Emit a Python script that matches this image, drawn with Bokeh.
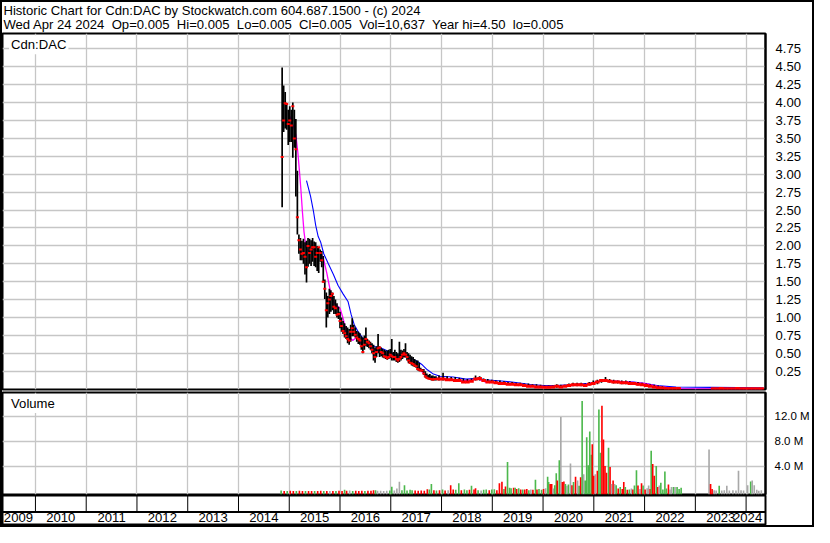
import numpy as np
from bokeh.plotting import figure
from bokeh.models import (Range1d, LinearAxis, FixedTicker, Grid, Label, Span,
                          ColumnDataSource, NumeralTickFormatter)
from bokeh.layouts import column
from bokeh.embed import file_html
from bokeh.resources import INLINE
from bokeh.core.properties import value

FONT = "Liberation Sans"
NB = "\u00a0"

title_line = "Historic Chart for Cdn:DAC by Stockwatch.com 604.687.1500 - (c) 2024"
quote_items = ["Wed Apr 24 2024", "Op=0.005", "Hi=0.005", "Lo=0.005", "Cl=0.005",
               "Vol=10,637", "Year hi=4.50", "lo=0.005"]
symbol_label = "Cdn:DAC"
volume_label = "Volume"

grid_years = list(range(2010, 2025))
year_labels = [str(y) for y in range(2009, 2025)]
price_ticks = [0.25, 0.5, 0.75, 1.0, 1.25, 1.5, 1.75, 2.0, 2.25, 2.5, 2.75, 3.0,
               3.25, 3.5, 3.75, 4.0, 4.25, 4.5, 4.75]
vol_ticks = [4, 8, 12]
vol_tick_labels = ["4.0 M", "8.0 M", "12.0 M"]

# ---- price bars (fractional year, high, low, close) ----
bar_t = [2014.86, 2014.89, 2014.92, 2014.95, 2014.98, 2015.01, 2015.04, 2015.07, 2015.10, 2015.13,
         2015.16, 2015.19, 2015.22, 2015.25, 2015.28, 2015.31, 2015.34, 2015.37, 2015.40, 2015.43,
         2015.46, 2015.49, 2015.52, 2015.55, 2015.58, 2015.61, 2015.64, 2015.67, 2015.70, 2015.73,
         2015.76, 2015.79, 2015.82, 2015.85, 2015.88, 2015.91, 2015.94, 2015.97, 2016.00, 2016.03,
         2016.06, 2016.09, 2016.12, 2016.15, 2016.18, 2016.21, 2016.24, 2016.27, 2016.30, 2016.33,
         2016.36, 2016.39, 2016.42, 2016.45, 2016.48, 2016.51, 2016.54, 2016.57, 2016.60, 2016.63,
         2016.66, 2016.69, 2016.72, 2016.75, 2016.78, 2016.81, 2016.84, 2016.87, 2016.90, 2016.93,
         2016.96, 2016.99, 2017.02, 2017.05, 2017.08, 2017.11, 2017.14, 2017.17, 2017.20, 2017.23,
         2017.26, 2017.29, 2017.32, 2017.35, 2017.38, 2017.41, 2017.44, 2017.47, 2017.50, 2017.53,
         2017.56, 2017.59, 2017.62, 2017.65, 2017.68, 2017.71, 2017.74, 2017.77, 2017.80, 2017.83,
         2017.86, 2017.89,
         2017.95, 2018.03, 2018.11, 2018.19, 2018.27, 2018.35, 2018.43, 2018.51, 2018.59, 2018.67,
         2018.75, 2018.83, 2018.91, 2018.99, 2019.07, 2019.15, 2019.23, 2019.31, 2019.39, 2019.47,
         2019.55, 2019.63, 2019.71, 2019.79, 2019.87, 2019.95, 2020.03, 2020.11, 2020.19, 2020.27,
         2020.35, 2020.43, 2020.51, 2020.59, 2020.67, 2020.75, 2020.83, 2020.91, 2020.99, 2021.07,
         2021.15, 2021.23, 2021.31, 2021.39, 2021.47, 2021.55, 2021.63, 2021.71, 2021.79, 2021.87,
         2021.95, 2022.03, 2022.11, 2022.19, 2022.27, 2022.35, 2022.43, 2022.51, 2022.59, 2022.67,
         2023.35, 2023.43, 2023.51, 2023.59, 2023.67, 2023.75, 2023.83, 2023.91, 2023.99, 2024.07,
         2024.15, 2024.23, 2024.31]
bar_hi = [4.49, 4.24, 4.15, 3.99, 3.90, 3.95, 3.90, 4.00, 3.90, 3.77,
          3.05, 2.16, 2.11, 2.07, 2.10, 2.05, 2.07, 2.11, 2.10, 2.08,
          2.11, 2.06, 2.05, 2.00, 1.98, 1.95, 1.93, 1.86, 1.53, 1.35,
          1.30, 1.40, 1.38, 1.35, 1.30, 1.25, 1.20, 1.15, 1.08, 1.00,
          0.95, 0.92, 0.88, 0.86, 0.84, 0.90, 0.99, 0.90, 0.86, 0.81,
          0.80, 0.78, 0.74, 0.72, 0.75, 0.86, 0.70, 0.68, 0.66, 0.64,
          0.62, 0.58, 0.60, 0.77, 0.60, 0.58, 0.56, 0.55, 0.54, 0.54,
          0.55, 0.56, 0.70, 0.52, 0.55, 0.52, 0.50, 0.66, 0.55, 0.54,
          0.56, 0.64, 0.52, 0.50, 0.48, 0.46, 0.45, 0.42, 0.40, 0.40,
          0.37, 0.30, 0.28, 0.28, 0.25, 0.22, 0.20, 0.21, 0.19, 0.19,
          0.18, 0.18,
          0.19, 0.23, 0.18, 0.17, 0.17, 0.16, 0.15, 0.14, 0.15, 0.19,
          0.18, 0.15, 0.14, 0.13, 0.12, 0.12, 0.11, 0.10, 0.10, 0.09,
          0.09, 0.08, 0.08, 0.07, 0.07, 0.06, 0.05, 0.05, 0.05, 0.07,
          0.06, 0.06, 0.08, 0.09, 0.09, 0.09, 0.08, 0.10, 0.12, 0.13,
          0.14, 0.17, 0.14, 0.13, 0.12, 0.12, 0.12, 0.11, 0.10, 0.10,
          0.09, 0.08, 0.07, 0.06, 0.05, 0.04, 0.03, 0.02, 0.015, 0.015,
          0.01, 0.01, 0.015, 0.01, 0.01, 0.01, 0.015, 0.01, 0.01, 0.01,
          0.01, 0.01, 0.01]
bar_lo = [2.54, 3.59, 3.64, 3.62, 3.41, 3.45, 3.45, 3.23, 3.37, 2.69,
          2.16, 1.89, 1.80, 1.80, 1.75, 1.60, 1.49, 1.71, 1.75, 1.72,
          1.78, 1.72, 1.70, 1.65, 1.62, 1.78, 1.70, 1.49, 1.26, 0.86,
          1.00, 1.05, 1.08, 1.10, 1.05, 1.05, 1.00, 0.98, 0.85, 0.80,
          0.77, 0.72, 0.70, 0.64, 0.62, 0.66, 0.74, 0.74, 0.72, 0.66,
          0.63, 0.62, 0.55, 0.50, 0.55, 0.60, 0.59, 0.57, 0.55, 0.50,
          0.40, 0.37, 0.45, 0.50, 0.45, 0.46, 0.44, 0.43, 0.42, 0.41,
          0.42, 0.43, 0.40, 0.40, 0.40, 0.38, 0.37, 0.38, 0.40, 0.42,
          0.44, 0.44, 0.40, 0.36, 0.35, 0.33, 0.32, 0.31, 0.30, 0.26,
          0.25, 0.25, 0.24, 0.20, 0.16, 0.15, 0.14, 0.13, 0.12, 0.12,
          0.12, 0.12,
          0.12, 0.12, 0.12, 0.12, 0.11, 0.10, 0.09, 0.09, 0.10, 0.12,
          0.12, 0.10, 0.09, 0.09, 0.08, 0.07, 0.07, 0.06, 0.06, 0.05,
          0.05, 0.04, 0.03, 0.03, 0.02, 0.02, 0.015, 0.015, 0.015, 0.02,
          0.02, 0.03, 0.03, 0.04, 0.04, 0.04, 0.04, 0.05, 0.06, 0.07,
          0.09, 0.10, 0.09, 0.08, 0.08, 0.07, 0.07, 0.07, 0.06, 0.05,
          0.05, 0.04, 0.03, 0.02, 0.015, 0.01, 0.01, 0.005, 0.005, 0.005,
          0.005, 0.005, 0.005, 0.005, 0.005, 0.005, 0.005, 0.005, 0.005, 0.005,
          0.005, 0.005, 0.005]
bar_cl = [3.24, 3.75, 3.99, 3.98, 3.70, 3.75, 3.68, 3.95, 3.50, 3.35,
          2.40, 2.08, 1.95, 1.89, 1.90, 1.85, 1.70, 2.00, 1.90, 1.95,
          1.98, 1.98, 1.85, 1.90, 1.98, 1.90, 1.80, 1.50, 1.40, 1.10,
          1.20, 1.25, 1.30, 1.33, 1.15, 1.13, 1.04, 1.05, 0.95, 0.88,
          0.81, 0.78, 0.74, 0.70, 0.68, 0.80, 0.85, 0.80, 0.76, 0.72,
          0.70, 0.68, 0.60, 0.52, 0.62, 0.70, 0.66, 0.64, 0.60, 0.55,
          0.50, 0.45, 0.52, 0.57, 0.58, 0.52, 0.50, 0.46, 0.45, 0.43,
          0.45, 0.48, 0.46, 0.45, 0.45, 0.42, 0.40, 0.42, 0.45, 0.48,
          0.50, 0.48, 0.45, 0.40, 0.37, 0.36, 0.35, 0.33, 0.32, 0.28,
          0.27, 0.26, 0.26, 0.22, 0.18, 0.16, 0.15, 0.14, 0.14, 0.13,
          0.14, 0.14,
          0.14, 0.14, 0.13, 0.13, 0.12, 0.12, 0.10, 0.10, 0.11, 0.14,
          0.15, 0.12, 0.10, 0.10, 0.09, 0.08, 0.08, 0.07, 0.07, 0.06,
          0.06, 0.05, 0.04, 0.04, 0.03, 0.03, 0.025, 0.025, 0.03, 0.04,
          0.03, 0.04, 0.05, 0.06, 0.06, 0.06, 0.05, 0.07, 0.08, 0.10,
          0.12, 0.12, 0.11, 0.10, 0.10, 0.09, 0.09, 0.08, 0.08, 0.07,
          0.06, 0.05, 0.04, 0.03, 0.02, 0.015, 0.01, 0.01, 0.01, 0.01,
          0.005, 0.005, 0.01, 0.005, 0.005, 0.005, 0.01, 0.005, 0.005, 0.005,
          0.005, 0.005, 0.005]

# ---- moving averages ----
ma_short_t = [2015.01, 2015.05, 2015.09, 2015.13, 2015.17, 2015.20, 2015.23, 2015.26, 2015.29, 2015.33,
              2015.38, 2015.45, 2015.55, 2015.62, 2015.68, 2015.74, 2015.84, 2015.90, 2016.00, 2016.06,
              2016.12, 2016.19, 2016.25, 2016.32, 2016.38, 2016.44, 2016.57, 2016.70, 2016.82, 2016.95,
              2017.08, 2017.21, 2017.30, 2017.37, 2017.46, 2017.56, 2017.65, 2017.75, 2017.84, 2018.03,
              2018.23, 2018.42, 2018.61, 2018.73, 2018.86, 2019.05, 2019.24, 2019.50, 2019.75, 2020.01,
              2020.26, 2020.52, 2020.77, 2020.90, 2021.15, 2021.28, 2021.66, 2022.05, 2022.30, 2022.74,
              2024.32]
ma_short_v = [3.81, 3.72, 3.65, 3.55, 3.30, 3.05, 2.78, 2.47, 2.20, 1.98,
              1.92, 1.96, 1.93, 1.91, 1.80, 1.62, 1.26, 1.19, 1.13, 0.99,
              0.81, 0.72, 0.68, 0.72, 0.68, 0.61, 0.61, 0.55, 0.50, 0.48,
              0.44, 0.46, 0.48, 0.41, 0.37, 0.30, 0.21, 0.17, 0.15, 0.15,
              0.13, 0.12, 0.13, 0.14, 0.10, 0.09, 0.08, 0.06, 0.04, 0.03,
              0.04, 0.05, 0.06, 0.075, 0.12, 0.12, 0.10, 0.075, 0.03, 0.008,
              0.005]
ma_long_t = [2015.34, 2015.42, 2015.48, 2015.52, 2015.57, 2015.62, 2015.68, 2015.77, 2015.87, 2015.96,
             2016.06, 2016.16, 2016.22, 2016.28, 2016.35, 2016.44, 2016.57, 2016.70, 2016.82, 2016.95,
             2017.08, 2017.27, 2017.40, 2017.52, 2017.62, 2017.72, 2017.84, 2017.97, 2018.23, 2018.48,
             2018.73, 2018.86, 2019.05, 2019.24, 2019.50, 2019.75, 2020.01, 2020.26, 2020.52, 2020.77,
             2020.90, 2021.15, 2021.41, 2021.79, 2022.05, 2022.30, 2022.62, 2023.32, 2024.34]
ma_long_v = [2.91, 2.69, 2.47, 2.29, 2.13, 2.05, 1.89, 1.75, 1.60, 1.45,
             1.33, 1.22, 1.04, 0.90, 0.81, 0.72, 0.64, 0.59, 0.57, 0.53,
             0.48, 0.46, 0.43, 0.39, 0.34, 0.27, 0.21, 0.18, 0.17, 0.14,
             0.15, 0.13, 0.12, 0.11, 0.09, 0.065, 0.05, 0.05, 0.06, 0.075,
             0.08, 0.11, 0.11, 0.10, 0.075, 0.045, 0.03, 0.025, 0.017]

# ---- volume (fractional year, millions of shares, g=up r=down k=unchanged) ----
vol_t = [2014.84, 2014.90, 2014.96, 2015.02, 2015.08, 2015.14, 2015.20, 2015.26, 2015.32, 2015.38,
         2015.44, 2015.50, 2015.56, 2015.62, 2015.68, 2015.74, 2015.80, 2015.86, 2015.92, 2015.98,
         2016.04, 2016.09, 2016.13, 2016.19, 2016.25, 2016.31, 2016.37, 2016.43, 2016.49, 2016.55,
         2016.61, 2016.66, 2016.70, 2016.74, 2016.80, 2016.86, 2016.92, 2016.98, 2017.02, 2017.07,
         2017.12, 2017.17, 2017.22, 2017.27, 2017.32, 2017.38, 2017.42, 2017.48, 2017.54, 2017.60,
         2017.66, 2017.72, 2017.76, 2017.80, 2017.85, 2017.90, 2017.96, 2018.02, 2018.07, 2018.13,
         2018.18, 2018.23, 2018.28, 2018.34, 2018.39, 2018.45, 2018.50, 2018.55, 2018.59, 2018.64,
         2018.67, 2018.72, 2018.78, 2018.83, 2018.88, 2018.94, 2018.99, 2019.04, 2019.09, 2019.14,
         2019.19, 2019.23, 2019.26, 2019.30, 2019.34, 2019.37, 2019.42, 2019.45, 2019.48, 2019.52,
         2019.56, 2019.60, 2019.64, 2019.68, 2019.72, 2019.76, 2019.80, 2019.85, 2019.88, 2019.92,
         2019.97, 2020.01, 2020.05, 2020.09, 2020.11, 2020.14, 2020.17, 2020.20, 2020.23, 2020.26,
         2020.28, 2020.32, 2020.35, 2020.38, 2020.41, 2020.44, 2020.47, 2020.50, 2020.54, 2020.57,
         2020.60, 2020.64, 2020.68, 2020.71, 2020.74, 2020.77, 2020.80, 2020.83, 2020.86, 2020.89,
         2020.92, 2020.95, 2020.97, 2021.00, 2021.03, 2021.07, 2021.10, 2021.13, 2021.16, 2021.19,
         2021.22, 2021.25, 2021.29, 2021.32, 2021.35, 2021.38, 2021.41, 2021.44, 2021.48, 2021.52,
         2021.56, 2021.59, 2021.62, 2021.66, 2021.70, 2021.74, 2021.77, 2021.80, 2021.84, 2021.87,
         2021.91, 2021.94, 2021.97, 2022.01, 2022.05, 2022.08, 2022.11, 2022.13, 2022.16, 2022.19,
         2022.23, 2022.26, 2022.29, 2022.32, 2022.36, 2022.40, 2022.43, 2022.47, 2022.50, 2022.53,
         2022.57, 2022.60, 2022.64, 2022.68, 2022.72,
         2023.27, 2023.30, 2023.33, 2023.37, 2023.41, 2023.47, 2023.52, 2023.57, 2023.62, 2023.67,
         2023.74, 2023.80, 2023.85, 2023.90, 2023.95, 2024.03, 2024.09, 2024.12, 2024.16, 2024.21,
         2024.25, 2024.30]
vol_m = [0.15, 0.08, 0.06, 0.10, 0.08, 0.06, 0.10, 0.08, 0.06, 0.08,
         0.06, 0.08, 0.06, 0.10, 0.08, 0.06, 0.08, 0.06, 0.08, 0.10,
         0.08, 0.25, 0.12, 0.15, 0.08, 0.10, 0.08, 0.10, 0.08, 0.10,
         0.12, 0.20, 0.20, 0.10, 0.10, 0.08, 0.10, 0.15, 0.75, 0.15,
         0.45, 1.55, 0.20, 1.00, 0.15, 0.25, 0.20, 0.15, 0.12, 0.15,
         0.12, 0.35, 0.30, 1.20, 0.20, 0.15, 0.20, 0.30, 0.15, 0.20,
         1.00, 0.30, 0.25, 1.30, 0.20, 0.30, 0.20, 0.25, 0.90, 0.30,
         0.50, 0.20, 0.15, 0.25, 0.30, 0.20, 0.30, 0.35, 0.20, 1.30,
         1.55, 0.40, 0.80, 4.70, 0.60, 0.50, 0.60, 0.60, 0.40, 0.50,
         0.30, 0.30, 0.30, 0.40, 0.20, 0.30, 0.25, 1.85, 0.30, 0.40,
         0.25, 0.40, 0.50, 2.35, 1.50, 1.20, 1.20, 0.45, 1.00, 2.90,
         1.75, 5.00, 11.90, 1.50, 1.60, 1.20, 0.90, 1.10, 4.45, 1.00,
         1.50, 2.35, 1.75, 0.90, 2.25, 14.45, 2.75, 1.75, 8.65, 4.20,
         9.60, 5.85, 7.55, 2.50, 2.75, 3.30, 13.10, 6.20, 13.70, 8.30,
         4.05, 3.00, 7.00, 3.90, 1.20, 1.75, 1.20, 1.00, 0.45, 0.70,
         0.40, 1.50, 0.70, 0.25, 0.30, 0.45, 0.30, 0.95, 3.40, 0.95,
         0.40, 1.30, 0.95, 0.30, 0.50, 0.95, 0.40, 6.50, 4.40, 2.50,
         4.05, 0.70, 0.95, 1.40, 0.30, 3.20, 0.45, 1.10, 0.30, 0.70,
         0.70, 0.70, 0.70, 0.40, 0.60,
         6.70, 1.20, 0.40, 0.20, 0.15, 0.90, 0.15, 0.20, 0.90, 0.15,
         0.20, 0.15, 3.30, 0.20, 0.15, 0.97, 1.60, 1.75, 0.97, 0.25,
         0.10, 0.20]
vol_dir = list("grgrrgrrgr" "rgrrgrkrgr" "rgrkgrrrgr" "rrgkkkkggk" "kkgggggrrr"
               "rrggrgrgrk" "rrggrggrgr" "rgkggrggrr" "rgrgggrgrg" "rgrrgkrgrg"
               "grkggrrkgg" "rgkrrgkgkr" "grkgrgkggg" "ggrrkrggrr" "rrgrkrkgrg"
               "rrgrgkrggr" "krgrkkrgrr" "grkggggrkk" "gkggg"
               "krrkkgkkkk" "kkkkkkgkkk" "kk")

# ---------------- geometry ----------------
W = 810
AX_R = 38
X0, X1 = 2009.351, 2024.382
xr = Range1d(X0, X1)
GRID_C = "#c6c6c6"
COLORS = {"g": "#4cb84c", "r": "#ff0000", "k": "#a8a8a8"}
FS = "13.1px"


def base(height, yr, mt, mb, mr):
    p = figure(width=W, height=height, x_range=xr, y_range=yr,
               x_axis_type=None, y_axis_type=None, output_backend="svg",
               toolbar_location=None, min_border_left=0, min_border_right=mr,
               min_border_top=mt, min_border_bottom=mb)
    p.background_fill_color = "white"
    p.border_fill_color = "white"
    p.outline_line_color = "black"
    p.outline_line_width = 2
    return p


# header
HH = 30
quote_line = (NB + " ").join(quote_items)
hdr = figure(width=W, height=HH, x_range=Range1d(0, W), y_range=Range1d(0, HH),
             x_axis_type=None, y_axis_type=None, output_backend="svg",
             toolbar_location=None, min_border=0)
hdr.outline_line_color = None
hdr.add_layout(Label(x=1, y=HH - 0.5, text=title_line, text_font=FONT, text_font_size=FS,
                     text_baseline="top", text_color="black"))
hdr.add_layout(Label(x=1, y=0.8, text=quote_line, text_font=FONT, text_font_size=FS,
                     text_baseline="bottom", text_color="black"))

# price panel
pp = base(359, Range1d(-0.005, 4.965), 1, 2, AX_R)
pp.add_layout(Grid(dimension=0, ticker=FixedTicker(ticks=grid_years),
                   grid_line_color=GRID_C, grid_line_width=1.3))
pp.add_layout(Grid(dimension=1, ticker=FixedTicker(ticks=price_ticks),
                   grid_line_color=GRID_C, grid_line_width=1.3))
ax = LinearAxis(ticker=FixedTicker(ticks=price_ticks),
                formatter=NumeralTickFormatter(format="0.00"))
ax.axis_line_color = "black"
ax.axis_line_width = 2
ax.major_tick_line_color = None
ax.minor_tick_line_color = None
ax.major_label_standoff = 4
ax.major_label_text_font = FONT
ax.major_label_text_font_size = FS
ax.major_label_text_color = "black"
pp.add_layout(ax, "right")

n_dense = sum(1 for t in bar_t if t < 2017.92)
cw = [3 if i < n_dense else 4.6 for i in range(len(bar_t))]
ch = [2 if i < n_dense else 3 for i in range(len(bar_t))]
bsrc = ColumnDataSource(dict(t=bar_t, hi=bar_hi, lo=bar_lo, cl=bar_cl, cw=cw, ch=ch))
pp.line(ma_long_t, ma_long_v, line_color="#0000ff", line_width=1.1)
pp.line(ma_short_t, ma_short_v, line_color="#ff00ff", line_width=1.3)
pp.segment(x0="t", y0="lo", x1="t", y1="hi", source=bsrc, line_color="black", line_width=1.7)
pp.rect(x="t", y="cl", width="cw", height="ch", width_units="screen", height_units="screen",
        source=bsrc, fill_color="#ff0000", line_color=None)
pp.add_layout(Label(x=X0 + 0.13, y=4.94, text=symbol_label, text_font=FONT, text_font_size=FS,
                    text_baseline="top", text_color="black", background_fill_color="white",
                    padding=2))

# volume panel
vr = Range1d(-0.49, 15.82)
vp = base(104, vr, 1, 1, AX_R)
vp.add_layout(Grid(dimension=0, ticker=FixedTicker(ticks=grid_years),
                   grid_line_color=GRID_C, grid_line_width=1.3))
vp.add_layout(Grid(dimension=1, ticker=FixedTicker(ticks=vol_ticks),
                   grid_line_color=GRID_C, grid_line_width=1.3))
vax = LinearAxis(ticker=FixedTicker(ticks=vol_ticks),
                 major_label_overrides={k: v for k, v in zip(vol_ticks, vol_tick_labels)})
vax.axis_line_color = "black"
vax.axis_line_width = 2
vax.major_tick_line_color = None
vax.minor_tick_line_color = None
vax.major_label_standoff = 3
vax.major_label_text_font = FONT
vax.major_label_text_font_size = "11.5px"
vax.major_label_text_color = "black"
vp.add_layout(vax, "right")
vsrc = ColumnDataSource(dict(t=vol_t, v=vol_m, c=[COLORS[d] for d in vol_dir]))
vp.vbar(x="t", top="v", bottom=vr.start, width=0.032, source=vsrc,
        fill_color="c", line_color=None)
vp.add_layout(Label(x=X0 + 0.13, y=15.6, text=volume_label, text_font=FONT, text_font_size=FS,
                    text_baseline="top", text_color="black", background_fill_color="white",
                    padding=2))

# year axis strip
yp = base(30, Range1d(0, 1), 0, 0, AX_R)
ppy = (W - AX_R) / (X1 - X0)
half = 14.6 / ppy
lab_x = [min(max(int(s) + 0.5, X0 + half + 1.5 / ppy), X1 - half - 3.5 / ppy) for s in year_labels]
yp.segment(x0=grid_years, y0=[0.45] * len(grid_years), x1=grid_years, y1=[1] * len(grid_years),
           line_color="black", line_width=1)
yp.add_layout(Span(location=0.45, dimension="width", line_color="black", line_width=2))
yp.text(x=lab_x, y=[0.27] * len(lab_x), text=year_labels, text_font=value(FONT),
        text_font_size=FS, text_align="center", text_baseline="middle", text_color="black")

layout = column(hdr, pp, vp, yp, spacing=0, styles={"border": "2px solid black"})
open("out.html", "w").write(file_html(layout, INLINE))
